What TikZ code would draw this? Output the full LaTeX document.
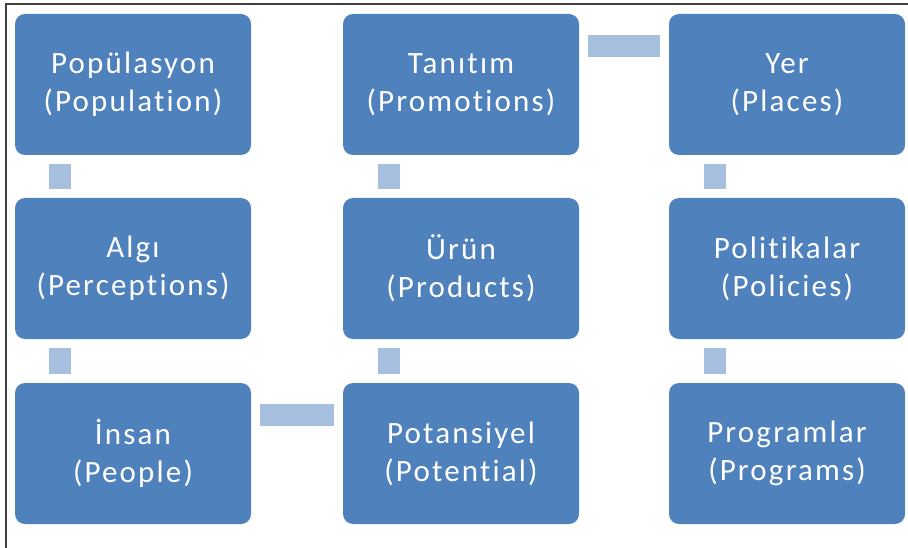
\documentclass[tikz,border=0pt]{standalone}
\usepackage{fontspec}
\setmainfont{Carlito}
\newfontfamily\boxfont[LetterSpace=7,Ligatures={NoCommon}]{Carlito}
\definecolor{boxblue}{HTML}{4F81BD}
\definecolor{linkblue}{HTML}{A7BFDE}
\definecolor{framegray}{HTML}{404040}

\begin{document}
\begin{tikzpicture}[x=1pt,y=-1pt]
  \tikzset{stage/.style = {
      rectangle,
      rounded corners = 10pt,
      fill = boxblue,
      text = white,
      minimum width = 236pt,
      minimum height = 141pt,
      inner sep = 0pt,
      align = center,
      font = \boxfont\fontsize{31}{38}\selectfont},
    link/.style = {
      draw = linkblue,
      line width = 22pt,
      shorten < = 8.5pt,
      shorten > = 8.5pt}}
  \useasboundingbox (0,0) rectangle (908,548);
  \draw[framegray, line width=1.5pt] (6,548) -- (6,4) -- (908,4);
  % first column
  \node[stage] (pop) at (133,84.5) {Popülasyon\\(Population)};
  \node[stage] (algi) at (133,268.5) {Algı\\(Perceptions)};
  \node[stage] (insan) at (133,453.5) {İnsan\\(People)};
  % second column
  \node[stage] (tan) at (461,84.5) {Tanıtım\\(Promotions)};
  \node[stage] (urun) at (461,268.5) {Ürün\\(Products)};
  \node[stage] (pot) at (461,453.5) {Potansiyel\\(Potential)};
  % third column
  \node[stage] (yer) at (787,84.5) {Yer\\(Places)};
  \node[stage] (pol) at (787,268.5) {Politikalar\\(Policies)};
  \node[stage] (prog) at (787,453.5) {Programlar\\(Programs)};
  % links
  \draw[link] ([xshift=45.5pt]pop.south west) -- ([xshift=45.5pt]algi.north west);
  \draw[link] ([xshift=45.5pt]algi.south west) -- ([xshift=45.5pt]insan.north west);
  \draw[link] ([yshift=-32.5pt]insan.north east) -- ([yshift=-32.5pt]pot.north west);
  \draw[link] ([xshift=46pt]pot.north west) -- ([xshift=46pt]urun.south west);
  \draw[link] ([xshift=46pt]urun.north west) -- ([xshift=46pt]tan.south west);
  \draw[link] ([yshift=-32.5pt]tan.north east) -- ([yshift=-32.5pt]yer.north west);
  \draw[link] ([xshift=46.5pt]yer.south west) -- ([xshift=46.5pt]pol.north west);
  \draw[link] ([xshift=46.5pt]pol.south west) -- ([xshift=46.5pt]prog.north west);
\end{tikzpicture}
\end{document}
